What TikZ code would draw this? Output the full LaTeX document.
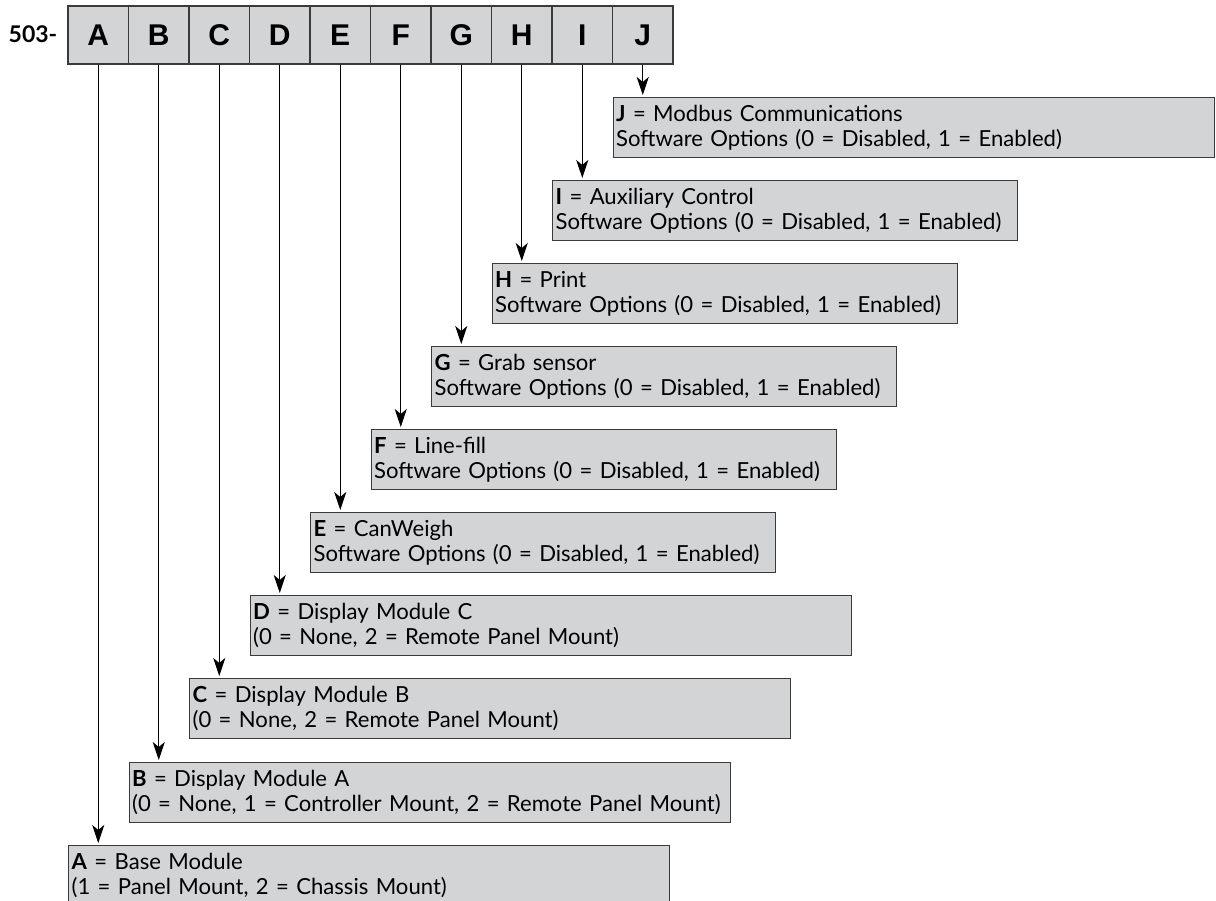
\documentclass[tikz,border=0pt]{standalone}
\usepackage{fontspec}
\setmainfont{Lato}
\newfontfamily\hdrfont{Liberation Sans}
\usetikzlibrary{arrows.meta}
\definecolor{boxfill}{HTML}{D3D4D6}
\definecolor{boxline}{HTML}{3A3A3A}
\tikzset{
  hbox/.style={draw=boxline, line width=1.3pt, fill=boxfill, minimum width=60.5pt, minimum height=58pt, inner sep=0pt, font=\hdrfont\fontsize{30}{30}\selectfont\bfseries},
  tbox/.style={draw=boxline, line width=1.3pt, fill=boxfill, minimum height=60pt, inner xsep=3pt, inner ysep=0pt, anchor=north west, align=left, font=\fontsize{22.1}{25}\selectfont},
  wide/.style={minimum width=601pt, text width=595pt},
  narrow/.style={minimum width=465pt, text width=459pt},
  arr/.style={draw=black, line width=1.1pt, -{Stealth[length=18pt, width=12pt, inset=5pt]}, shorten >=2pt},
}
\begin{document}
\begin{tikzpicture}[x=1pt, y=-1pt]
\useasboundingbox (0,0) rectangle (1216,901);
\clip (0,0) rectangle (1216,901);
\node[font=\fontsize{23}{23}\selectfont\bfseries] (code) at (33,34) {503-};
\node[hbox] (hA) at (98.25,35) {A};
\node[hbox] (hB) at (158.75,35) {B};
\node[hbox] (hC) at (219.25,35) {C};
\node[hbox] (hD) at (279.75,35) {D};
\node[hbox] (hE) at (340.25,35) {E};
\node[hbox] (hF) at (400.75,35) {F};
\node[hbox] (hG) at (461.25,35) {G};
\node[hbox] (hH) at (521.75,35) {H};
\node[hbox] (hI) at (582.25,35) {I};
\node[hbox] (hJ) at (642.75,35) {J};

\node[tbox, wide] (bJ) at (612.5,97) {\textbf{J} = Modbus Communications\\Software Options (0 = Disabled, 1 = Enabled)};
\node[tbox, narrow] (bI) at (552,180) {\textbf{I} = Auxiliary Control\\Software Options (0 = Disabled, 1 = Enabled)};
\node[tbox, narrow] (bH) at (491.5,263) {\textbf{H} = Print\\Software Options (0 = Disabled, 1 = Enabled)};
\node[tbox, narrow] (bG) at (431,346) {\textbf{G} = Grab sensor\\Software Options (0 = Disabled, 1 = Enabled)};
\node[tbox, narrow] (bF) at (370.5,429) {\textbf{F} = Line-fill\\Software Options (0 = Disabled, 1 = Enabled)};
\node[tbox, narrow] (bE) at (310,512) {\textbf{E} = CanWeigh\\Software Options (0 = Disabled, 1 = Enabled)};
\node[tbox, wide] (bD) at (249.5,595) {\textbf{D} = Display Module C\\(0 = None, 2 = Remote Panel Mount)};
\node[tbox, wide] (bC) at (189,678) {\textbf{C} = Display Module B\\(0 = None, 2 = Remote Panel Mount)};
\node[tbox, wide] (bB) at (128.5,762) {\textbf{B} = Display Module A\\(0 = None, 1 = Controller Mount, 2 = Remote Panel Mount)};
\node[tbox, wide] (bA) at (68,845) {\textbf{A} = Base Module\\(1 = Panel Mount, 2 = Chassis Mount)};

\foreach \k in {A,B,C,D,E,F,G,H,I,J}{
  \draw[arr] (h\k.south) -- (h\k.south |- b\k.north);
}
\end{tikzpicture}
\end{document}
